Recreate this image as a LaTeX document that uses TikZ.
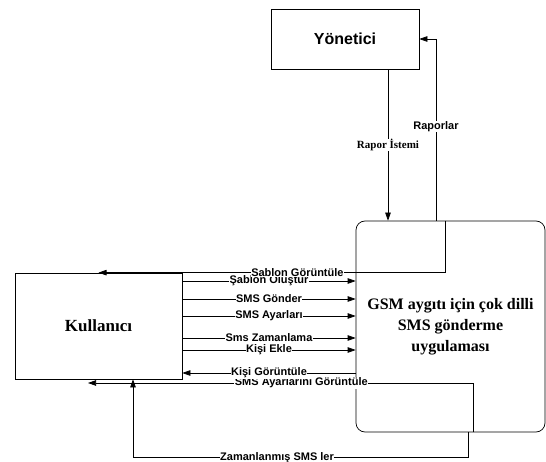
\documentclass[tikz,border=0pt]{standalone}
\usepackage{fontspec}
\setmainfont{Liberation Serif}
\newfontfamily\arial{Liberation Sans}
\usetikzlibrary{arrows.meta,positioning}

\begin{document}
\begin{tikzpicture}[x=1pt, y=-1pt,
    >={Triangle[length=8pt,width=5.5pt]},
    every node/.append style={align=center},
    box/.style={draw, line width=0.7pt, inner sep=0pt}]
    \tikzstyle{lbl}=[fill=white, inner sep=0.4pt,
        font=\arial\bfseries\fontsize{11}{12}\selectfont]
    \tikzstyle{flow}=[line width=0.7pt]

    \useasboundingbox (0,0) rectangle (546,462);

   \node [box, minimum width=148pt, minimum height=60pt,
          font=\arial\bfseries\fontsize{16}{18}\selectfont] (yon) at (345,39) {Yönetici};
   \node [box, rounded corners=9pt, minimum width=189pt, minimum height=211pt,
          font=\bfseries\fontsize{16}{21}\selectfont] (gsm) at (450.5,326.5)
          {GSM aygıtı için çok dilli\\SMS gönderme\\uygulaması};
   \node [box, minimum width=167pt, minimum height=106pt,
          font=\bfseries\fontsize{17}{19}\selectfont] (kul) at (98.5,326) {Kullanıcı};
   \coordinate (ayarucu) at (88,383);

   % yonetici <-> uygulama
   \draw[flow,->] (yon.south -| 388,0) -- node[lbl, font=\bfseries\fontsize{11}{12}\selectfont] {Rapor İstemi} (gsm.north -| 388,0);
   \draw[flow,->] (gsm.north -| 436,0) |- node[lbl, pos=0.26] {Raporlar} (yon.east);

   % kullanici -> uygulama
   \path[flow,->] (kul.east |- 0,281) edge node[lbl] {Şablon Oluştur} (gsm.west |- 0,281)
   (kul.east |- 0,299) edge node[lbl] {SMS Gönder} (gsm.west |- 0,299)
   (kul.east |- 0,316) edge node[lbl] {SMS Ayarları} (gsm.west |- 0,316)
   (kul.east |- 0,338) edge node[lbl] {Sms Zamanlama} (gsm.west |- 0,338)
   (kul.east |- 0,350) edge node[lbl] {Kişi Ekle} (gsm.west |- 0,350);

   % uygulama -> kullanici
   \draw[flow,->] (gsm.north -| 445,0) |- node[lbl, pos=0.713] {Sablon Görüntüle} (kul.north);
   \draw[flow,->] (gsm.south -| 473,0) |- node[lbl, pos=0.723] {SMS Ayarlarını Görüntüle} (ayarucu);
   \draw[flow,->] (gsm.west |- 0,373) -- node[lbl] {Kişi Görüntüle} (kul.east |- 0,373);
   \draw[flow,->] (gsm.south -| 468,0) -- ++(0,25) -| node[lbl, pos=0.285] {Zamanlanmış SMS ler} (kul.south -| 133,0);
\end{tikzpicture}
\end{document}
